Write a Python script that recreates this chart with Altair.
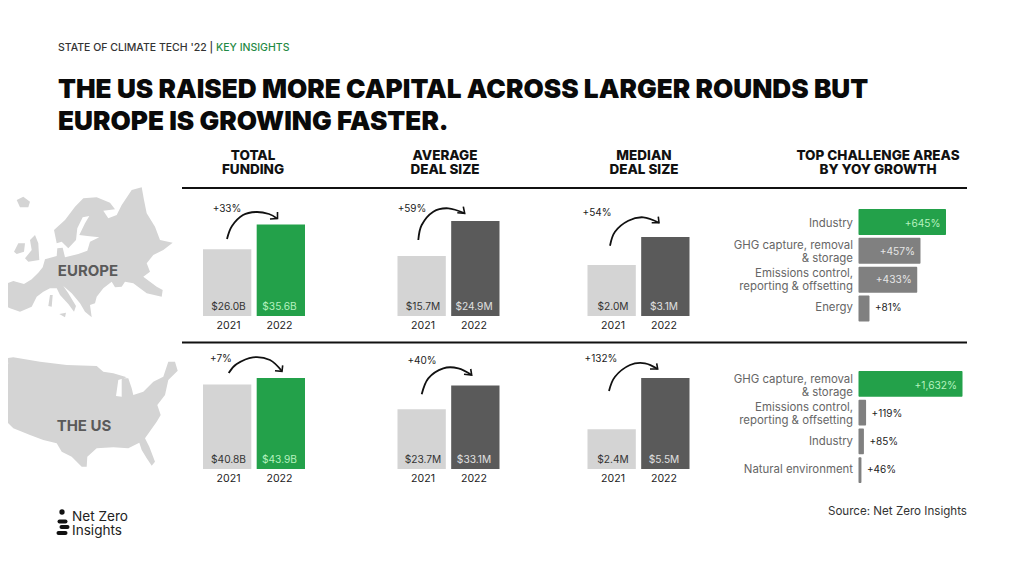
import altair as alt
import pandas as pd

FONT = "Inter"
YEARS = ["2021", "2022"]
LIGHT, GREEN, DARK, MID = "#d4d4d4", "#23a14a", "#5a5a5a", "#808080"

# vertical panels: values, labels, change, arrows
PANELS = [
    dict(vals=[26.0, 35.6], labs=["$26.0B", "$35.6B"], x=(203, 305), base=316, top=224.5, hi=GREEN, hitext="#b5f2bf", chg="+33%", chgpos=(227, 208)),
    dict(vals=[15.7, 24.9], labs=["$15.7M", "$24.9M"], x=(397.5, 499.5), base=316, top=221, hi=DARK, hitext="#e0e0e0", chg="+59%", chgpos=(412, 208)),
    dict(vals=[2.0, 3.1], labs=["$2.0M", "$3.1M"], x=(587.5, 689.5), base=316, top=237, hi=DARK, hitext="#e0e0e0", chg="+54%", chgpos=(597, 212)),
    dict(vals=[40.8, 43.9], labs=["$40.8B", "$43.9B"], x=(203, 305), base=469, top=378, hi=GREEN, hitext="#b5f2bf", chg="+7%", chgpos=(221, 358)),
    dict(vals=[23.7, 33.1], labs=["$23.7M", "$33.1M"], x=(397.5, 499.5), base=469, top=385.5, hi=DARK, hitext="#e0e0e0", chg="+40%", chgpos=(422, 360)),
    dict(vals=[2.4, 5.5], labs=["$2.4M", "$5.5M"], x=(587.5, 689.5), base=469, top=378, hi=DARK, hitext="#e0e0e0", chg="+132%", chgpos=(601, 358)),
]

ARCS = [
    [(227, 239), (232, 226), (243, 215), (256, 212), (269, 214), (277, 218.5)],
    [(418.3, 240), (421.7, 225), (433.3, 211.7), (448.3, 208.3), (464.7, 213.3)],
    [(610, 245.7), (615, 231.7), (628.3, 220.7), (643.3, 217.3), (659, 222.7)],
    [(228.7, 373), (236.7, 364), (253, 357.3), (270, 360), (282, 371.3)],
    [(421.7, 394.3), (428.3, 378.3), (443.3, 368.3), (458.3, 368.3), (471.7, 375)],
    [(609, 391), (615, 376.7), (630, 365), (645, 363.3), (657.7, 369)],
]
BARBS = [
    [(277.5, 212), (277.5, 218.5), (270, 219)],
    [(463.3, 206.7), (464.7, 213.3), (457.3, 212.7)],
    [(658.3, 216.7), (659, 222.7), (651.7, 222.7)],
    [(282.7, 365.3), (282, 371.3), (275, 370.7)],
    [(470.7, 369), (471.7, 375), (464, 374.3)],
    [(656.7, 363.3), (657.7, 369), (650, 369)],
]

# horizontal panels
H_PANELS = [
    dict(cats=["Industry", "GHG capture, removal\n& storage", "Emissions control,\nreporting & offsetting", "Energy"],
         vals=[645, 457, 433, 81], labs=["+645%", "+457%", "+433%", "+81%"], y=(209, 321.5), right=946),
    dict(cats=["GHG capture, removal\n& storage", "Emissions control,\nreporting & offsetting", "Industry", "Natural environment"],
         vals=[1632, 119, 85, 46], labs=["+1,632%", "+119%", "+85%", "+46%"], y=(371, 483), right=962.5),
]
H_BASE = 858.5

# map silhouettes
EUROPE_MAIN = [(0,345),(8,315),(40,303),(72,312),(95,298),(115,278),(128,262),(135,238),(170,228),(172,205),(188,203),(195,232),(235,222),(262,212),(270,185),(298,172),(262,168),(238,165),(255,130),(268,108),(248,112),(232,145),(228,180),(205,205),(195,195),(185,185),(170,190),(162,150),(195,120),(225,80),(250,55),(290,52),(330,68),(345,88),(310,92),(325,115),(350,105),(365,75),(395,30),(425,22),(432,60),(440,100),(465,140),(480,180),(518,188),(490,210),(460,225),(440,250),(450,275),(430,290),(470,320),(488,330),(485,350),(440,340),(400,310),(375,305),(365,320),(345,322),(335,305),(310,325),(290,350),(285,370),(270,375),(275,412),(255,395),(240,370),(215,340),(190,318),(205,340),(228,378),(222,395),(205,372),(180,345),(170,325),(150,325),(130,335),(110,350),(95,380),(60,395),(30,385),(10,375)]
UK = [(105,165),(115,190),(118,240),(85,245),(75,235),(95,210),(90,180)]
IRELAND = [(42,215),(55,190),(75,190),(72,215),(50,222)]
ICELAND = [(50,60),(70,50),(90,65),(85,82),(60,82)]
SICILY = [(178,402),(198,398),(195,412)]
SARDINIA = [(150,345),(158,345),(155,380),(145,378)]
USA = [(20,55),(40,52),(120,65),(200,75),(290,78),(310,95),(340,100),(380,112),(355,120),(348,168),(365,170),(365,115),(385,115),(395,145),(400,165),(430,155),(460,125),(490,110),(505,65),(525,65),(533,92),(505,120),(495,165),(472,195),(482,225),(470,245),(435,295),(448,320),(465,365),(455,377),(440,355),(425,330),(418,308),(385,325),(340,322),(290,325),(262,350),(260,380),(245,380),(215,350),(185,335),(170,310),(130,300),(90,285),(40,265),(15,240),(10,190),(2,130),(10,90),(25,70)]

PX = alt.Scale(domain=[0, 1024], range=[-8, 1016], nice=False, zero=False)
PY = alt.Scale(domain=[0, 576], range=[-8, 568], nice=False, zero=False)


def silhouette(rings, oy):
    path = "".join("M" + "L".join(f"{x / 3:.1f},{y / 3:.1f}" for x, y in r) + "Z" for r in rings)
    return alt.Chart(pd.DataFrame({"x": [0], "y": [oy]})).mark_point(
        shape=path, size=4, filled=True, color="#d4d4d4", opacity=1, strokeWidth=0
    ).encode(x=alt.X("x:Q", scale=PX, axis=None), y=alt.Y("y:Q", scale=PY, axis=None))


def text(s, x, y, size=12, weight=400, color="#222222", align="left", font=FONT):
    return alt.Chart(pd.DataFrame({"t": [s]})).mark_text(
        font=font, fontSize=size, fontWeight=weight, color=color, align=align, baseline="middle"
    ).encode(x=alt.value(x - 8), y=alt.value(y - 7), text="t:N")


def panel(p):
    df = pd.DataFrame({"year": YEARS, "v": p["vals"], "lab": p["labs"], "zero": [0, 0]})
    xs = alt.Scale(domain=YEARS, range=[p["x"][0] - 8, p["x"][1] - 8], paddingInner=0.1, paddingOuter=0)
    ys = alt.Scale(domain=[0, max(p["vals"])], range=[p["base"] - 8, p["top"] - 8], nice=False)
    X = alt.X("year:N", scale=xs, axis=None)
    bars = alt.Chart(df).mark_bar().encode(
        x=X, y=alt.Y("v:Q", scale=ys, axis=None), y2=alt.Y2("zero:Q"),
        color=alt.condition("datum.year == '2021'", alt.value(LIGHT), alt.value(p["hi"])),
    )
    vals = alt.Chart(df).mark_text(font=FONT, fontSize=10.2, dy=-9).encode(
        x=X, y=alt.Y("zero:Q", scale=ys, axis=None), text="lab:N",
        color=alt.condition("datum.year == '2021'", alt.value("#333333"), alt.value(p["hitext"])),
    )
    yrs = alt.Chart(df).mark_text(font=FONT, fontSize=10.6, dy=10, color="#222222").encode(
        x=X, y=alt.Y("zero:Q", scale=ys, axis=None), text="year:N",
    )
    return [bars, vals, yrs, text(p["chg"], p["chgpos"][0], p["chgpos"][1], 10, align="center")]


def hpanel(p):
    df = pd.DataFrame({"cat": p["cats"], "v": p["vals"], "lab": p["labs"], "zero": 0, "rank": range(len(p["cats"]))})
    xs = alt.Scale(domain=[0, max(p["vals"])], range=[H_BASE - 8, p["right"] - 8], nice=False)
    ys = alt.Scale(domain=p["cats"], range=[p["y"][0] - 8, p["y"][1] - 8], paddingInner=0.1, paddingOuter=0)
    Y = alt.Y("cat:N", scale=ys, axis=None, sort=None)
    Xv = alt.X("v:Q", scale=xs, axis=None)
    Xz = alt.X("zero:Q", scale=xs, axis=None)
    bars = alt.Chart(df).mark_bar(cornerRadius=1).encode(
        x=Xv, x2=alt.X2("zero:Q"), y=Y,
        color=alt.condition("datum.rank == 0", alt.value(GREEN), alt.value(MID)),
    )
    style = dict(font=FONT, fontSize=11.4, align="right", dx=-5.5, color="#666666", lineBreak="\n", lineHeight=13)
    two = alt.Chart(df).transform_filter("indexof(datum.cat, '\\n') >= 0").mark_text(dy=-5.5, **style).encode(
        x=Xz, y=Y, text="cat:N",
    )
    one = alt.Chart(df).transform_filter("indexof(datum.cat, '\\n') < 0").mark_text(dy=1, **style).encode(
        x=Xz, y=Y, text="cat:N",
    )
    big = max(p["vals"]) * 0.3
    inside = alt.Chart(df).transform_filter(f"datum.v > {big}").mark_text(font=FONT, fontSize=10.2, align="right", dx=-5.5, dy=1).encode(
        x=Xv, y=Y, text="lab:N",
        color=alt.condition("datum.rank == 0", alt.value("#b5f2bf"), alt.value("#e6e6e6")),
    )
    outside = alt.Chart(df).transform_filter(f"datum.v <= {big}").mark_text(font=FONT, fontSize=10, align="left", dx=5.5, dy=1, color="#222222").encode(
        x=Xv, y=Y, text="lab:N",
    )
    return [bars, two, one, inside, outside]


def lines(paths, **mark):
    rows = [dict(s=i, o=j, x=x, y=y) for i, pts in enumerate(paths) for j, (x, y) in enumerate(pts)]
    return alt.Chart(pd.DataFrame(rows)).mark_line(**mark).encode(
        x=alt.X("x:Q", scale=PX, axis=None), y=alt.Y("y:Q", scale=PY, axis=None),
        detail="s:N", order="o:Q",
    )


LOGO_BARS = [[(59.5, 521.5), (65.5, 521.5)], [(61.5, 527), (67.5, 527)], [(58.5, 533), (65.5, 533)]]
LOGO_DOT = pd.DataFrame({"x": [62], "y": [512]})
dot = alt.Chart(LOGO_DOT).mark_circle(size=28, color="#111111", opacity=1).encode(
    x=alt.X("x:Q", scale=PX, axis=None), y=alt.Y("y:Q", scale=PY, axis=None)
)


def hrule(y):
    return alt.Chart(pd.DataFrame({"a": [0]})).mark_rule(color="#111111", strokeWidth=2).encode(
        x=alt.value(182 - 8), x2=alt.value(967 - 8), y=alt.value(y - 8)
    )


layers = [hrule(188), hrule(342.5)]
for p in PANELS:
    layers += panel(p)
for p in H_PANELS:
    layers += hpanel(p)
layers += [
    lines(ARCS, color="#111111", strokeWidth=1.8, interpolate="cardinal"),
    lines(BARBS, color="#111111", strokeWidth=1.6),
    lines(LOGO_BARS, color="#111111", strokeWidth=4, strokeCap="round"),
    dot,
    text("STATE OF CLIMATE TECH '22 |", 58, 47, 10.5, 500, "#333333"),
    text("KEY INSIGHTS", 216, 47, 10.5, 500, "#1f8a45"),
    text("THE US RAISED MORE CAPITAL ACROSS LARGER ROUNDS BUT", 58, 88.5, 26.2, 900, "#0a0a0a"),
    text("EUROPE IS GROWING FASTER.", 58, 120.5, 26.2, 900, "#0a0a0a"),
    text("TOTAL", 253, 155, 13.5, 800, "#111111", "center"),
    text("FUNDING", 253, 169, 13.5, 800, "#111111", "center"),
    text("AVERAGE", 445, 155, 13.5, 800, "#111111", "center"),
    text("DEAL SIZE", 445, 169, 13.5, 800, "#111111", "center"),
    text("MEDIAN", 644, 155, 13.5, 800, "#111111", "center"),
    text("DEAL SIZE", 644, 169, 13.5, 800, "#111111", "center"),
    text("TOP CHALLENGE AREAS", 878, 155, 13.5, 800, "#111111", "center"),
    text("BY YOY GROWTH", 878, 169, 13.5, 800, "#111111", "center"),
    text("Source: Net Zero Insights", 967, 511, 11.6, 400, "#333333", "right"),
    text("Net Zero", 72, 515.5, 13.6, 400, "#222222"),
    text("Insights", 72, 530, 13.6, 400, "#222222"),
    silhouette([EUROPE_MAIN, UK, IRELAND, ICELAND, SICILY, SARDINIA], 180),
    silhouette([USA], 340),
    text("EUROPE", 88, 270, 15, 700, "#5a5a5a", "center"),
    text("THE US", 84, 425, 15, 700, "#5a5a5a", "center"),
]

chart = (
    alt.layer(*layers)
    .resolve_scale(x="independent", y="independent")
    .properties(width=1008, height=560, padding=0, autosize=alt.AutoSizeParams(type="none"), background="white")
    .configure_view(stroke=None)
)
chart.save("out.html", embed_options={"renderer": "svg", "actions": False})
